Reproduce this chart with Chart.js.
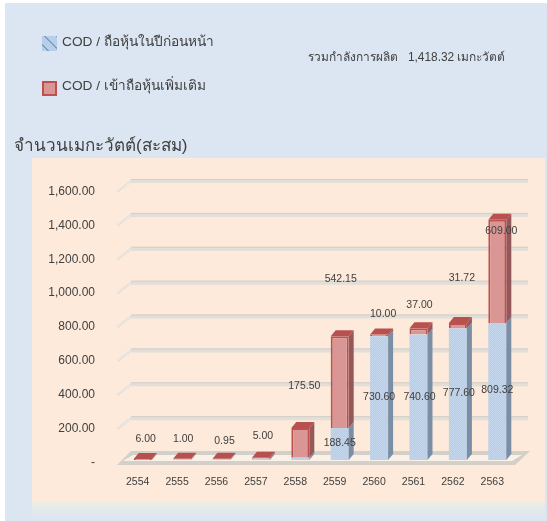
<!DOCTYPE html>
<html lang="th">
<head>
<meta charset="utf-8">
<title>จำนวนเมกะวัตต์(สะสม)</title>
<script src="https://cdn.jsdelivr.net/npm/chart.js@4/dist/chart.umd.min.js"></script>
<style>
  html, body { margin: 0; padding: 0; background: #fff; }
  #wrap { position: relative; width: 547px; height: 521px; overflow: hidden; font-family: "Liberation Sans", "Noto Sans", sans-serif; color: #404040; filter: blur(0.4px); }
  #chart { position: absolute; left: 0; top: 0; }
  .txt { position: absolute; white-space: nowrap; line-height: 1; }
  .legend { font-size: 13.7px; left: 62px; }
  .swatch { position: absolute; left: 42px; width: 15px; height: 15px; box-sizing: border-box; }
  .s-blue { top: 36px; background: repeating-linear-gradient(45deg, #b9cfe9 0 4px, #7f9cc4 4px 5px, #b9cfe9 5px 8px); }
  .s-red { top: 81px; background: #d99694; border: 2px solid #c0504d; }
</style>
</head>
<body>
<div id="wrap">
  <canvas id="chart" width="547" height="521"></canvas>
  <div class="swatch s-blue"></div>
  <div class="txt legend" style="top:35px">COD / ถือหุ้นในปีก่อนหน้า</div>
  <div class="swatch s-red"></div>
  <div class="txt legend" style="top:79px">COD / เข้าถือหุ้นเพิ่มเติม</div>
  <div class="txt" style="left:308px;top:52px;font-size:11.9px">รวมกำลังการผลิต&nbsp;&nbsp; 1,418.32 เมกะวัตต์</div>
  <div class="txt" style="left:14px;top:137px;font-size:17.1px">จำนวนเมกะวัตต์(สะสม)</div>
</div>
<script>
// ---------------------------------------------------------------------------
// Data
// ---------------------------------------------------------------------------
const years = ["2554", "2555", "2556", "2557", "2558", "2559", "2560", "2561", "2562", "2563"];
const heldBefore = [0, 6, 7, 7.95, 12.95, 188.45, 730.6, 740.6, 777.6, 809.32];
const addedStake = [6, 1, 0.95, 5, 175.5, 542.15, 10, 37, 31.72, 609];
const heldLabels = ["", "", "", "", "", "188.45", "730.60", "740.60", "777.60", "809.32"];
const addedLabels = ["6.00", "1.00", "0.95", "5.00", "175.50", "542.15", "10.00", "37.00", "31.72", "609.00"];

// Labels in the source sit wherever someone dragged them: nudge from bar centre / bar top
const heldNudge = [[0, 0], [0, 0], [0, 0], [0, 0], [0, 0], [0, -1], [0, -1], [1, 0], [1, -1], [0, -1]];
const addedNudge = [[3, -20], [1, -20], [3, -18], [2, -22], [4, -42], [1, -57], [4, -20], [1, -23], [4, -45], [4, 11]];

const DEPTH_X = 5;
const DEPTH_Y = 6;
const FONT = '"Liberation Sans", "Noto Sans", sans-serif';

// ---------------------------------------------------------------------------
// Helpers
// ---------------------------------------------------------------------------
function ditherPattern() {
    const c = document.createElement("canvas");
    c.width = 2;
    c.height = 2;
    const g = c.getContext("2d");
    g.fillStyle = "#b7cee9";
    g.fillRect(0, 0, 2, 2);
    g.fillStyle = "#c3d6ec";
    g.fillRect(0, 0, 1, 1);
    g.fillRect(1, 1, 1, 1);
    return g.createPattern(c, "repeat");
}

function poly(ctx, pts, fill) {
    ctx.beginPath();
    pts.forEach((p, i) => (i ? ctx.lineTo(p[0], p[1]) : ctx.moveTo(p[0], p[1])));
    ctx.closePath();
    ctx.fillStyle = fill;
    ctx.fill();
}

// ---------------------------------------------------------------------------
// Plugins
// ---------------------------------------------------------------------------
const backdrop = {
    id: "backdrop",
    beforeDraw(chart) {
        const ctx = chart.ctx;
        ctx.save();
        ctx.fillStyle = "#dce6f2";
        ctx.fillRect(5, 3, 542, 518);
        const fade = ctx.createLinearGradient(0, 502, 0, 516);
        fade.addColorStop(0, "#ebeee2");
        fade.addColorStop(1, "#dfe7ef");
        ctx.fillStyle = fade;
        ctx.fillRect(32, 502, 513, 14);
        ctx.fillStyle = "#fdeada";
        ctx.fillRect(32, 158, 513, 344);
        ctx.restore();
    },
};

const room = {
    id: "room",
    beforeDatasetsDraw(chart) {
        const ctx = chart.ctx;
        const y = chart.scales.y;
        const x0 = 117, x1 = 131, xEnd = 528;
        ctx.save();
        y.ticks.forEach(t => {
            if (t.value === 0) return;
            const py = y.getPixelForValue(t.value);
            ctx.strokeStyle = "#e2ded8";
            ctx.lineWidth = 4;
            ctx.beginPath();
            ctx.moveTo(x1, py - 8);
            ctx.lineTo(xEnd, py - 8);
            ctx.stroke();
            ctx.strokeStyle = "#d3cec7";
            ctx.lineWidth = 1;
            ctx.beginPath();
            ctx.moveTo(x1, py - 9.5);
            ctx.lineTo(xEnd, py - 9.5);
            ctx.stroke();
            // stub running forward to the axis
            ctx.strokeStyle = "#e2e0de";
            ctx.lineWidth = 3;
            ctx.setLineDash([2, 1]);
            ctx.beginPath();
            ctx.moveTo(x1, py - 8);
            ctx.lineTo(x0, py + 3);
            ctx.stroke();
            ctx.setLineDash([]);
        });

        // floor
        const base = y.getPixelForValue(0);
        poly(ctx, [[x0, base + 5], [x1, base - 9], [530, base - 9], [515, base + 5]], "#d3cfc9");
        poly(ctx, [[x0 + 6, base + 1], [x1 + 2, base - 5], [522, base - 5], [512, base + 1]], "#fbf1e6");
        ctx.restore();
    },
    afterDatasetsDraw(chart) {
        const ctx = chart.ctx;
        const blue = chart.getDatasetMeta(0).data;
        const red = chart.getDatasetMeta(1).data;
        ctx.save();
        blue.forEach((el, i) => {
            const r = red[i];
            const right = el.x + el.width / 2;
            const left = el.x - el.width / 2;
            // side faces
            if (el.base - el.y > 0.5) {
                poly(ctx, [[right, el.y], [right + DEPTH_X, el.y - DEPTH_Y], [right + DEPTH_X, el.base - DEPTH_Y], [right, el.base]], "#7a8fa6");
            }
            poly(ctx, [[right, r.y], [right + DEPTH_X, r.y - DEPTH_Y], [right + DEPTH_X, r.base - DEPTH_Y], [right, r.base]], "#96575a");
            // top face
            poly(ctx, [[left, r.y], [left + DEPTH_X, r.y - DEPTH_Y], [right + DEPTH_X, r.y - DEPTH_Y], [right, r.y]], "#b8504f");
        });
        ctx.restore();
    },
};

const valueLabels = {
    id: "valueLabels",
    afterDraw(chart) {
        const ctx = chart.ctx;
        const blue = chart.getDatasetMeta(0).data;
        const red = chart.getDatasetMeta(1).data;
        ctx.save();
        ctx.font = "10.5px " + FONT;
        ctx.fillStyle = "#404040";
        ctx.textAlign = "center";
        ctx.textBaseline = "middle";
        blue.forEach((el, i) => {
            if (heldLabels[i]) {
                ctx.fillText(heldLabels[i], el.x + heldNudge[i][0], (el.y + el.base) / 2 + heldNudge[i][1]);
            }
            ctx.fillText(addedLabels[i], red[i].x + addedNudge[i][0], red[i].y + addedNudge[i][1]);
        });
        ctx.restore();
    },
};

// ---------------------------------------------------------------------------
// Chart
// ---------------------------------------------------------------------------
new Chart(document.getElementById("chart"), {
    type: "bar",
    data: {
        labels: years,
        datasets: [
            {
                label: "COD / ถือหุ้นในปีก่อนหน้า",
                data: heldBefore,
                backgroundColor: ditherPattern(),
                borderWidth: 0,
            },
            {
                label: "COD / เข้าถือหุ้นเพิ่มเติม",
                data: addedStake,
                backgroundColor: "#d99694",
                borderColor: "#c0504d",
                borderWidth: 2,
            },
        ],
    },
    plugins: [backdrop, room, valueLabels],
    options: {
        responsive: false,
        animation: false,
        categoryPercentage: 1,
        barPercentage: 0.457,
        layout: { padding: { left: 0, top: 189, right: 30, bottom: 0 } },
        plugins: { legend: { display: false }, tooltip: { enabled: false } },
        scales: {
            x: {
                stacked: true,
                grid: { display: false },
                border: { display: false },
                afterFit(s) { s.height = 61; },
                ticks: { padding: 8, labelOffset: -5, maxRotation: 0, color: "#404040", font: { family: FONT, size: 10.5 } },
            },
            y: {
                stacked: true,
                min: 0,
                max: 1600,
                grid: { display: false },
                border: { display: false },
                afterFit(s) { s.width = 123; },
                ticks: {
                    stepSize: 200,
                    padding: 20,
                    labelOffset: 2.5,
                    color: "#404040",
                    font: { family: FONT, size: 12 },
                    callback: v => (v === 0 ? "-" : v.toLocaleString("en-US", { minimumFractionDigits: 2 })),
                },
            },
        },
    },
});
</script>
</body>
</html>
